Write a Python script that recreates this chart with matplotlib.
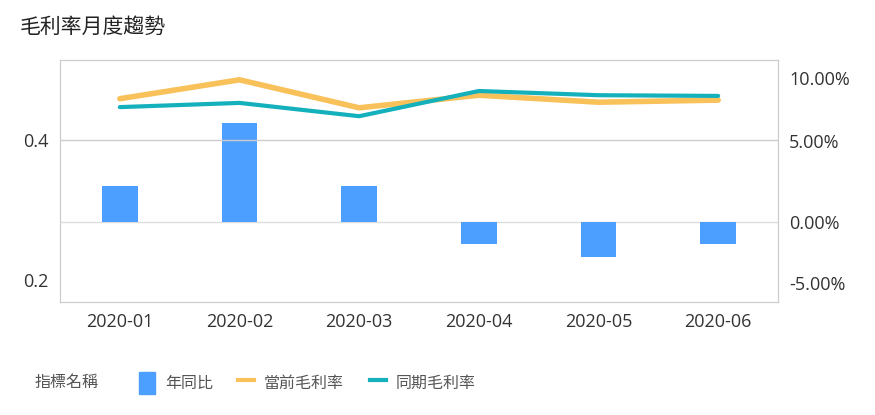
import numpy as np
import matplotlib.pyplot as plt
from matplotlib.lines import Line2D
from matplotlib.patches import Patch

plt.rcParams['font.family'] = ['Open Sans', 'Noto Sans CJK TC', 'DejaVu Sans']

months = ["2020-01", "2020-02", "2020-03", "2020-04", "2020-05", "2020-06"]
yoy = [2.2, 6.1, 2.2, -1.35, -2.15, -1.35]          # 年同比 (%)
current = [0.459, 0.486, 0.446, 0.464, 0.454, 0.457]  # 當前毛利率
same_period = [0.447, 0.453, 0.434, 0.470, 0.464, 0.463]  # 同期毛利率

fig = plt.figure(figsize=(8.75, 4.15), dpi=100)
ax = fig.add_axes([60 / 875, 1 - 302 / 415, 718 / 875, 242 / 415])
ax2 = ax.twinx()

x = np.arange(len(months))
ax2.bar(x, yoy, width=0.3, color="#4c9ffe", zorder=2)
ax.plot(x, current, color="#f9c15a", lw=4, solid_capstyle="round", zorder=3)
ax.plot(x, same_period, color="#14b1bd", lw=3, solid_capstyle="round", zorder=4)
ax.set_zorder(ax2.get_zorder() + 1)
ax.patch.set_visible(False)

ax.set_xlim(-0.5, 5.5)
ax.set_ylim(0.1686, 0.5143)
ax.set_yticks([0.2, 0.4])
ax.set_yticklabels(["0.2", "0.4"])
ax2.set_ylim(-4.94, 10.0)
# outer labels sit inside the plot area, as in the original
ax2.set_yticks([-3.77, 0, 5, 8.89])
ax2.set_yticklabels(["-5.00%", "0.00%", "5.00%", "10.00%"])
ax2.axhline(0, color="#dddddd", lw=1, zorder=0)
ax.axhline(0.4, color="#cccccc", lw=1, zorder=0)

ax.set_xticks(x)
ax.set_xticklabels(months)
for a in (ax, ax2):
    a.tick_params(length=0, labelsize=13, colors="#333333", pad=8)
    for s in a.spines.values():
        s.set_color("#cccccc")

fig.text(20 / 875, 1 - 27 / 415, "毛利率月度趨勢", fontsize=15, va="center", color="#222222")

handles = [Patch(color="#4c9ffe"),
           Line2D([], [], color="#f9c15a", lw=3),
           Line2D([], [], color="#14b1bd", lw=3)]
fig.text(35 / 875, 1 - 383 / 415, "指標名稱", fontsize=11.5, va="center", color="#555555")
fig.legend(handles, ["年同比", "當前毛利率", "同期毛利率"], loc="center left",
           bbox_to_anchor=(125 / 875, 1 - 383 / 415), ncol=3, frameon=False,
           fontsize=11.5, handlelength=1.0, handleheight=1.8, handletextpad=0.6,
           columnspacing=1.6, labelcolor="#555555")

fig.savefig("out.png", dpi=100)
